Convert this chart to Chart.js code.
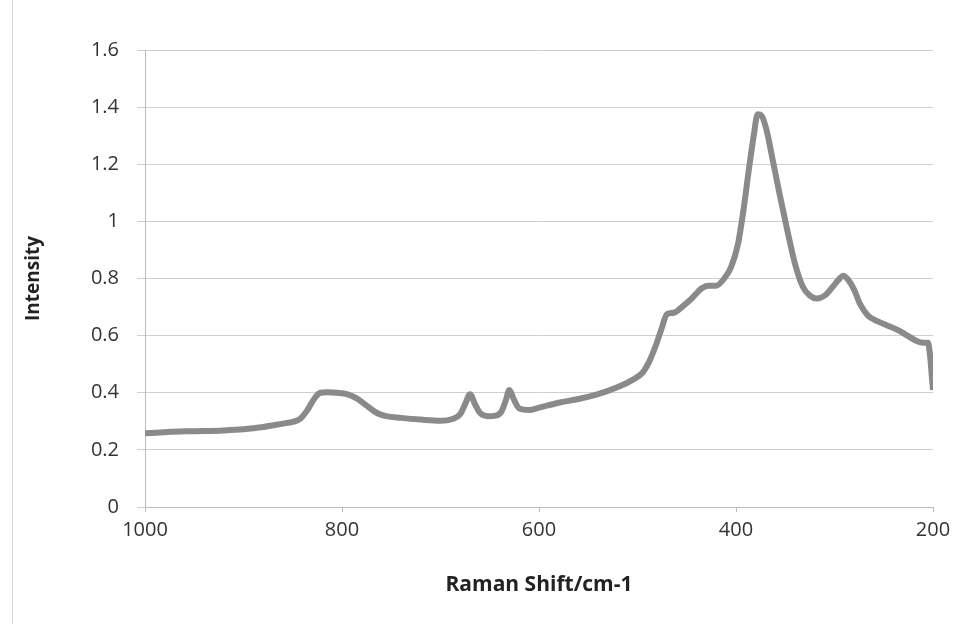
<!DOCTYPE html>
<html>
<head>
<meta charset="utf-8">
<script src="https://cdn.jsdelivr.net/npm/chart.js@4/dist/chart.umd.min.js"></script>
<style>
  html, body { margin: 0; padding: 0; background: #fff; }
  .wrap { position: relative; width: 965px; height: 624px; }
  .wrap::before { content: ""; position: absolute; left: 12px; top: 0; bottom: 0; border-left: 1px solid #d8d8d8; }
</style>
</head>
<body>
<div class="wrap"><canvas id="myChart" width="965" height="624"></canvas></div>
<script>
// Raman spectrum
const shift = [1000, 980, 960, 940, 920, 900, 880, 860, 850, 842, 835, 828, 822, 815, 805, 795, 785, 775, 765, 755,
  740, 720, 700, 688, 680, 675, 670, 665, 660, 652, 644, 638, 634, 630, 626, 620, 610, 600, 580, 560,
  540, 520, 505, 495, 488, 482, 476, 470, 463, 455, 445, 435, 428, 420, 412, 405, 398, 392, 387, 382,
  378, 374, 369, 363, 356, 348, 340, 332, 325, 318, 310, 302, 296, 291, 286, 280, 274, 266, 256, 246,
  236, 226, 216, 210, 205, 203, 201, 200];
const intensity = [0.258, 0.262, 0.265, 0.266, 0.268, 0.272, 0.28, 0.292, 0.298, 0.31, 0.34, 0.38, 0.4, 0.402, 0.4, 0.395, 0.38, 0.355, 0.33, 0.318,
  0.312, 0.306, 0.302, 0.308, 0.325, 0.36, 0.395, 0.36, 0.33, 0.318, 0.32, 0.335, 0.37, 0.41, 0.38, 0.345, 0.34, 0.348, 0.365, 0.378,
  0.395, 0.42, 0.445, 0.47, 0.51, 0.56, 0.62, 0.675, 0.68, 0.7, 0.73, 0.765, 0.775, 0.775, 0.8, 0.84, 0.92, 1.05, 1.18, 1.3,
  1.375, 1.37, 1.32, 1.22, 1.1, 0.97, 0.85, 0.77, 0.74, 0.73, 0.74, 0.77, 0.795, 0.81, 0.795, 0.76, 0.71, 0.67, 0.65, 0.635,
  0.62, 0.6, 0.58, 0.575, 0.575, 0.53, 0.45, 0.41];
const yTicks = [0, 0.2, 0.4, 0.6, 0.8, 1, 1.2, 1.4, 1.6];
const xTicks = [1000, 800, 600, 400, 200];

const points = shift.map((x, i) => ({ x: x, y: intensity[i] }));

const ctx = document.getElementById('myChart').getContext('2d');
const myChart = new Chart(ctx, {
  type: 'line',
  data: {
    datasets: [{
      label: 'Intensity',
      data: points,
      borderColor: '#8a8a8a',
      borderWidth: 6,
      pointRadius: 0,
      cubicInterpolationMode: 'monotone',
      fill: false
    }]
  },
  options: {
    responsive: false,
    animation: false,
    layout: { padding: { left: 22, right: 32, top: 50, bottom: 0 } },
    plugins: { legend: { display: false }, tooltip: { enabled: false } },
    scales: {
      x: {
        type: 'linear',
        reverse: true,
        min: 200,
        max: 1000,
        afterBuildTicks: s => { s.ticks = xTicks.map(v => ({ value: v })); },
        afterFit: s => { s.height = 117; },
        ticks: {
          color: '#333',
          font: { family: 'Open Sans', size: 20 },
          padding: 6,
          maxRotation: 0,
          callback: v => String(v)
        },
        grid: { display: true, drawOnChartArea: false, drawTicks: true, tickLength: 5, color: '#bbb' },
        border: { color: '#bbb' },
        title: {
          display: true,
          text: 'Raman Shift/cm-1',
          color: '#222',
          font: { family: 'Open Sans', size: 21, weight: 'bold' },
          padding: { top: 0, bottom: 26 }
        }
      },
      y: {
        min: 0,
        max: 1.6,
        afterBuildTicks: s => { s.ticks = yTicks.map(v => ({ value: v })); },
        afterFit: s => { s.width = 123; },
        ticks: {
          color: '#333',
          font: { family: 'Open Sans', size: 20 },
          padding: 18,
          callback: v => String(v)
        },
        grid: { color: '#cfcfcf', tickLength: 8 },
        border: { color: '#bbb' },
        title: {
          display: true,
          text: 'Intensity',
          color: '#222',
          font: { family: 'Open Sans', size: 19, weight: 'bold' },
          padding: { top: 0, bottom: 12 }
        }
      }
    }
  }
});
</script>
</body>
</html>
